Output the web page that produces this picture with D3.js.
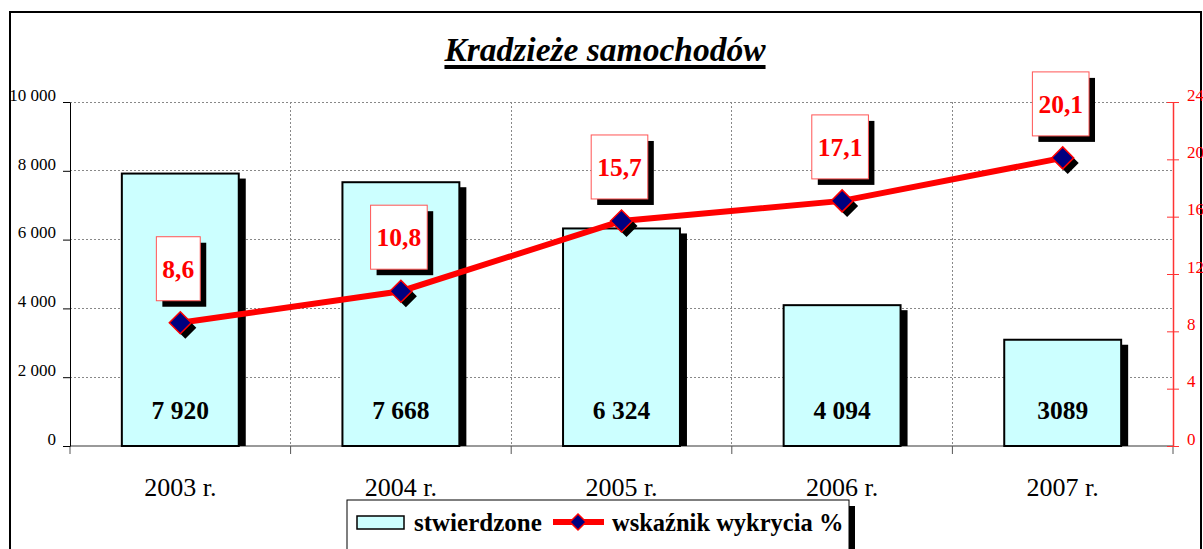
<!DOCTYPE html>
<meta charset="utf-8">
<style>
body { margin: 0; background: #fff; }
svg { font-family: "Liberation Serif", "Times New Roman", serif; }
.grid line { stroke: #888; stroke-dasharray: 2,2; shape-rendering: crispEdges; }
.axis text { font-family: "Liberation Serif", "Times New Roman", serif; }
.y.axis path, .y.axis line { stroke: #000; }
.y2.axis path, .y2.axis line { stroke: #ff3333; }
.y2.axis text { fill: #ff0000; }
</style>
<div id="chart"></div>
<script src="https://d3js.org/d3.v7.min.js"></script>
<script>

// data
var years = ["2003 r.", "2004 r.", "2005 r.", "2006 r.", "2007 r."];
var stwierdzone = [7920, 7668, 6324, 4094, 3089];
var barLabels = ["7 920", "7 668", "6 324", "4 094", "3089"];
var wskaznik = [8.6, 10.8, 15.7, 17.1, 20.1];
var leftTicks = [0, 2000, 4000, 6000, 8000, 10000];
var rightTicks = [0, 4, 8, 12, 16, 20, 24];

var width = 1203, height = 549;
var pLeft = 70, pRight = 1173, pTop = 102, pBottom = 446;

var svg = d3.select("#chart").append("svg")
  .attr("width", width)
  .attr("height", height);

// outer frame
svg.append("rect")
  .attr("x", 10).attr("y", 12)
  .attr("width", 1191).attr("height", 560)
  .attr("fill", "#fff")
  .attr("stroke", "#000")
  .attr("stroke-width", 2);

var x = d3.scaleBand().domain(years).range([pLeft, pRight]).paddingInner(0).paddingOuter(0);
var y = d3.scaleLinear().domain([0, 10000]).range([pBottom, pTop]);
var y2 = d3.scaleLinear().domain([0, 24]).range([pBottom, pTop]);

// grid lines
var grid = svg.append("g").attr("class", "grid");
grid.selectAll(".h")
  .data(leftTicks.filter(function(d) { return d > 0; }))
  .enter().append("line")
  .attr("x1", pLeft).attr("x2", pRight)
  .attr("y1", function(d) { return y(d); })
  .attr("y2", function(d) { return y(d); });
grid.selectAll(".v")
  .data(years.slice(1))
  .enter().append("line")
  .attr("x1", function(d) { return x(d); })
  .attr("x2", function(d) { return x(d); })
  .attr("y1", pTop).attr("y2", pBottom);

// x axis line and ticks between categories
svg.append("line")
  .attr("x1", pLeft).attr("x2", pRight)
  .attr("y1", pBottom).attr("y2", pBottom)
  .attr("stroke", "#777").attr("stroke-width", 1.5);
svg.selectAll(".xtick")
  .data(years.concat(["end"]))
  .enter().append("line")
  .attr("x1", function(d, i) { return pLeft + i * x.bandwidth(); })
  .attr("x2", function(d, i) { return pLeft + i * x.bandwidth(); })
  .attr("y1", pBottom).attr("y2", pBottom + 8)
  .attr("stroke", "#555");

svg.selectAll(".xlabel")
  .data(years)
  .enter().append("text")
  .attr("x", function(d) { return x(d) + x.bandwidth() / 2; })
  .attr("y", 496)
  .attr("text-anchor", "middle")
  .style("font-size", "26px")
  .text(function(d) { return d; });

// left axis
svg.append("g")
  .attr("class", "y axis")
  .attr("transform", "translate(" + pLeft + ",0)")
  .call(d3.axisLeft(y).tickValues(leftTicks).tickSize(7).tickSizeOuter(0)
    .tickFormat(function(d) { return d3.format(",")(d).replace(",", " "); }))
  .call(function(g) {
    g.selectAll("text").style("font-size", "17px").attr("x", -14).attr("dy", "-0.1em");
  });

// right axis
svg.append("g")
  .attr("class", "y2 axis")
  .attr("transform", "translate(" + pRight + ",0)")
  .call(d3.axisRight(y2).tickValues(rightTicks).tickSize(6).tickSizeOuter(0))
  .call(function(g) {
    g.select("path").attr("stroke-width", 1.5);
    g.selectAll("line").attr("x1", -6);
    g.selectAll("text").style("font-size", "17px").attr("x", 14).attr("dy", "-0.1em");
  });

// bars
var bw = x.bandwidth() * 0.53;
var bars = svg.append("g").selectAll("g")
  .data(stwierdzone)
  .enter().append("g");
bars.append("rect")
  .attr("x", function(d, i) { return x(years[i]) + (x.bandwidth() - bw) / 2 + 7; })
  .attr("y", function(d) { return y(d) + 5; })
  .attr("width", bw)
  .attr("height", function(d) { return pBottom - y(d) - 5; })
  .attr("fill", "#000");
bars.append("rect")
  .attr("x", function(d, i) { return x(years[i]) + (x.bandwidth() - bw) / 2; })
  .attr("y", function(d) { return y(d); })
  .attr("width", bw)
  .attr("height", function(d) { return pBottom - y(d); })
  .attr("fill", "#ccffff")
  .attr("stroke", "#000")
  .attr("stroke-width", 2);
bars.append("text")
  .attr("x", function(d, i) { return x(years[i]) + x.bandwidth() / 2; })
  .attr("y", 419)
  .attr("text-anchor", "middle")
  .style("font-size", "25.5px")
  .style("font-weight", "bold")
  .text(function(d, i) { return barLabels[i]; });

// line
var line = d3.line()
  .x(function(d, i) { return x(years[i]) + x.bandwidth() / 2; })
  .y(function(d) { return y2(d); });

svg.append("path")
  .datum(wskaznik)
  .attr("d", line)
  .attr("fill", "none")
  .attr("stroke", "#ff0000")
  .attr("stroke-width", 6);

var diamond = "M0,-11L11,0L0,11L-11,0Z";
var pts = svg.append("g").selectAll("g")
  .data(wskaznik)
  .enter().append("g")
  .attr("transform", function(d, i) {
    return "translate(" + (x(years[i]) + x.bandwidth() / 2) + "," + y2(d) + ")";
  });
pts.append("path")
  .attr("d", diamond)
  .attr("transform", "translate(5,5)")
  .attr("fill", "#000");
pts.append("path")
  .attr("d", diamond)
  .attr("fill", "#000080")
  .attr("stroke", "#ff0000")
  .attr("stroke-width", 1.5);

// data labels
var lab = svg.append("g").selectAll("g")
  .data(wskaznik)
  .enter().append("g")
  .attr("transform", function(d, i) {
    return "translate(" + (x(years[i]) + x.bandwidth() / 2 - 2) + "," + (y2(d) - 54) + ")";
  });
lab.each(function(d) {
  var g = d3.select(this);
  var txt = d3.format(".1f")(d).replace(".", ",");
  var t = g.append("text")
    .attr("text-anchor", "middle")
    .attr("dy", "0.35em")
    .style("font-size", "25.5px")
    .style("font-weight", "bold")
    .attr("fill", "#ff0000")
    .text(txt);
  var w = t.node().getComputedTextLength() + 12;
  g.insert("rect", "text")
    .attr("x", -w / 2 + 6).attr("y", -32 + 6)
    .attr("width", w).attr("height", 64)
    .attr("fill", "#000");
  g.insert("rect", "text")
    .attr("x", -w / 2).attr("y", -32)
    .attr("width", w).attr("height", 64)
    .attr("fill", "#fff")
    .attr("stroke", "#ff5555")
    .attr("stroke-width", 1);
});

// title
var title = svg.append("text")
  .attr("x", 605)
  .attr("y", 61)
  .attr("text-anchor", "middle")
  .style("font-size", "33.5px")
  .style("font-weight", "bold")
  .style("font-style", "italic")
  .text("Kradzieże samochodów");
var tw = title.node().getComputedTextLength();
svg.append("rect")
  .attr("x", 605 - tw / 2).attr("y", 65)
  .attr("width", tw).attr("height", 4)
  .attr("fill", "#000");

// legend
var legend = svg.append("g");
legend.append("rect")
  .attr("x", 353).attr("y", 506)
  .attr("width", 502).attr("height", 60)
  .attr("fill", "#000");
legend.append("rect")
  .attr("x", 347).attr("y", 500)
  .attr("width", 502).attr("height", 60)
  .attr("fill", "#fff")
  .attr("stroke", "#000")
  .attr("stroke-width", 1);
legend.append("rect")
  .attr("x", 357).attr("y", 516)
  .attr("width", 47).attr("height", 13)
  .attr("fill", "#ccffff")
  .attr("stroke", "#000")
  .attr("stroke-width", 1.5);
legend.append("text")
  .attr("x", 414).attr("y", 531)
  .style("font-size", "25px")
  .style("font-weight", "bold")
  .text("stwierdzone");
legend.append("line")
  .attr("x1", 553).attr("x2", 604)
  .attr("y1", 522).attr("y2", 522)
  .attr("stroke", "#ff0000")
  .attr("stroke-width", 6);
legend.append("path")
  .attr("d", "M0,-8L8,0L0,8L-8,0Z")
  .attr("transform", "translate(578,522)")
  .attr("fill", "#000080")
  .attr("stroke", "#ff0000")
  .attr("stroke-width", 1.5);
legend.append("text")
  .attr("x", 612).attr("y", 531)
  .style("font-size", "24.5px")
  .style("font-weight", "bold")
  .text("wskaźnik wykrycia %");

</script>
